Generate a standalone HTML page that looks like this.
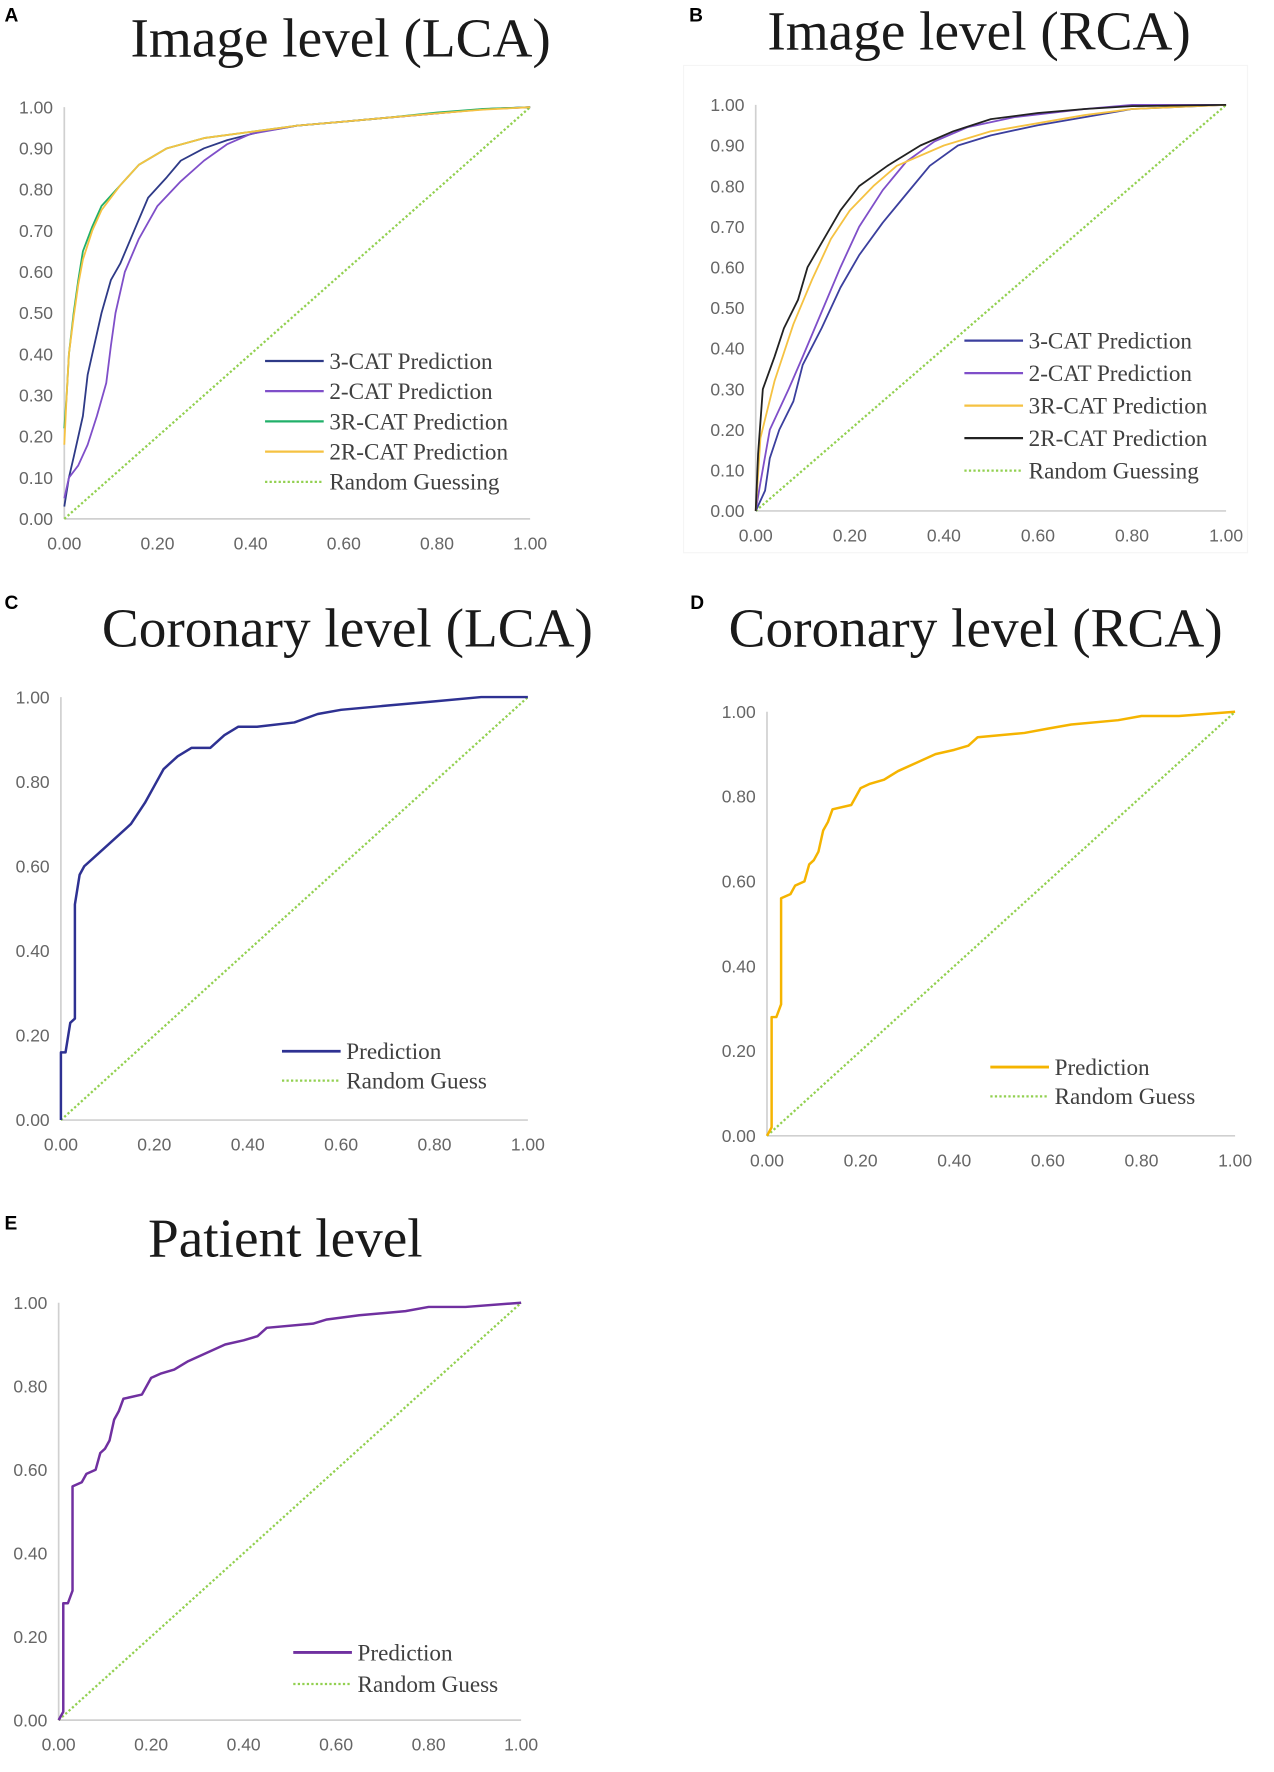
<!DOCTYPE html>
<html><head><meta charset="utf-8">
<style>
html,body{margin:0;padding:0;background:#fff;}
svg{display:block;}
.tick{font-family:"Liberation Sans",sans-serif;font-size:15.5px;fill:#666;}
.title{font-family:"Liberation Serif",serif;font-size:49px;fill:#1a1a1a;}
.leg{font-family:"Liberation Serif",serif;font-size:20.5px;fill:#404040;}
.plabel{font-family:"Liberation Sans",sans-serif;font-size:17px;font-weight:bold;fill:#000;}
</style></head>
<body>
<svg id="fig" width="1274" height="1772" viewBox="0 0 1129.5 1571" xmlns="http://www.w3.org/2000/svg">
<rect x="0" y="0" width="1129.5" height="1571" fill="#fff"/>
</svg>
<script>
// Panel A data (Image level LCA)
const aFpr3 = [0,0.01,0.02,0.04,0.05,0.06,0.08,0.10,0.12,0.15,0.18,0.22,0.25,0.30,0.35,0.42,0.5,0.6,0.7,0.8,0.9,1];
const aTpr3 = [0.03,0.10,0.15,0.25,0.35,0.40,0.50,0.58,0.62,0.70,0.78,0.83,0.87,0.90,0.92,0.94,0.955,0.965,0.975,0.985,0.995,1];
const aFpr2 = [0,0.01,0.03,0.05,0.07,0.09,0.10,0.11,0.13,0.16,0.20,0.25,0.30,0.35,0.40,0.5,0.6,0.7,0.8,0.9,1];
const aTpr2 = [0.05,0.10,0.13,0.18,0.25,0.33,0.42,0.50,0.60,0.68,0.76,0.82,0.87,0.91,0.935,0.955,0.965,0.975,0.985,0.995,1];
const aFpr3R = [0,0.005,0.01,0.02,0.03,0.04,0.06,0.08,0.12,0.16,0.22,0.30,0.40,0.5,0.6,0.7,0.8,0.9,1];
const aTpr3R = [0.22,0.30,0.40,0.50,0.58,0.65,0.71,0.76,0.81,0.86,0.90,0.925,0.94,0.955,0.965,0.975,0.987,0.996,1];
const aFpr2R = [0,0.005,0.01,0.02,0.03,0.04,0.06,0.08,0.12,0.16,0.22,0.30,0.40,0.5,0.6,0.7,0.8,0.9,1];
const aTpr2R = [0.18,0.30,0.40,0.49,0.57,0.63,0.70,0.75,0.81,0.86,0.90,0.925,0.94,0.955,0.965,0.975,0.985,0.994,1];
// Panel B data (Image level RCA)
const bFpr3 = [0,0.02,0.03,0.05,0.08,0.10,0.14,0.18,0.22,0.27,0.32,0.37,0.43,0.5,0.6,0.7,0.8,1];
const bTpr3 = [0,0.05,0.13,0.20,0.27,0.36,0.45,0.55,0.63,0.71,0.78,0.85,0.90,0.925,0.95,0.97,0.99,1];
const bFpr2 = [0,0.01,0.03,0.07,0.10,0.14,0.18,0.22,0.27,0.32,0.38,0.45,0.55,0.7,0.8,1];
const bTpr2 = [0,0.07,0.20,0.30,0.38,0.49,0.60,0.70,0.79,0.86,0.91,0.945,0.97,0.99,1,1];
const bFpr3R = [0,0.01,0.04,0.08,0.12,0.16,0.20,0.25,0.30,0.40,0.5,0.6,0.7,0.8,1];
const bTpr3R = [0,0.18,0.32,0.46,0.57,0.67,0.74,0.80,0.85,0.90,0.935,0.955,0.975,0.99,1];
const bFpr2R = [0,0.005,0.015,0.04,0.06,0.09,0.11,0.14,0.18,0.22,0.28,0.35,0.42,0.5,0.6,0.7,0.8,1];
const bTpr2R = [0,0.14,0.30,0.38,0.45,0.52,0.60,0.66,0.74,0.80,0.85,0.90,0.935,0.965,0.98,0.99,0.997,1];
// Panel C data (Coronary level LCA)
const cFpr = [0,0,0.01,0.02,0.03,0.03,0.04,0.05,0.07,0.10,0.12,0.15,0.18,0.20,0.22,0.25,0.28,0.32,0.35,0.38,0.42,0.50,0.55,0.60,0.70,0.80,0.90,1.0];
const cTpr = [0,0.16,0.16,0.23,0.24,0.51,0.58,0.60,0.62,0.65,0.67,0.70,0.75,0.79,0.83,0.86,0.88,0.88,0.91,0.93,0.93,0.94,0.96,0.97,0.98,0.99,1.0,1.0];
// Panel D data (Coronary level RCA)
const dFpr = [0,0.01,0.01,0.02,0.03,0.03,0.05,0.06,0.08,0.09,0.10,0.11,0.12,0.13,0.14,0.18,0.20,0.22,0.25,0.28,0.32,0.36,0.40,0.43,0.45,0.55,0.60,0.65,0.75,0.80,0.88,1];
const dTpr = [0,0.02,0.28,0.28,0.31,0.56,0.57,0.59,0.60,0.64,0.65,0.67,0.72,0.74,0.77,0.78,0.82,0.83,0.84,0.86,0.88,0.90,0.91,0.92,0.94,0.95,0.96,0.97,0.98,0.99,0.99,1];
// Panel E data (Patient level)
const eFpr = [0,0.01,0.01,0.02,0.03,0.03,0.05,0.06,0.08,0.09,0.10,0.11,0.12,0.13,0.14,0.18,0.20,0.22,0.25,0.28,0.32,0.36,0.40,0.43,0.45,0.55,0.58,0.65,0.75,0.80,0.88,1];
const eTpr = [0,0.02,0.28,0.28,0.31,0.56,0.57,0.59,0.60,0.64,0.65,0.67,0.72,0.74,0.77,0.78,0.82,0.83,0.84,0.86,0.88,0.90,0.91,0.92,0.94,0.95,0.96,0.97,0.98,0.99,0.99,1];
// Tick labels
const ticksTenth = ["0.00","0.10","0.20","0.30","0.40","0.50","0.60","0.70","0.80","0.90","1.00"];
const ticksFifth = ["0.00","0.20","0.40","0.60","0.80","1.00"];

const NS = "http://www.w3.org/2000/svg";
const fig = document.getElementById('fig');
function mk(tag, attrs, parent){
  const e = document.createElementNS(NS, tag);
  for (const k in attrs) e.setAttribute(k, attrs[k]);
  (parent||fig).appendChild(e);
  return e;
}

function panel(p){
  const g = mk('g', {});
  
  
  const sx = v => p.x0 + v * (p.x1 - p.x0);
  const sy = v => p.y0 - v * (p.y0 - p.y1);
  const lab = mk('text', {x: p.lx, y: p.ly, class: 'plabel'}, g);
  lab.textContent = p.id.toUpperCase();
  
  
  const t = mk('text', {x: p.tx, y: p.ty, class: 'title', 'text-anchor': 'middle'}, g);
  t.textContent = p.title;
  
  
  const ya = mk('line', {x1: p.x0, y1: p.y1, x2: p.x0, y2: p.y0, stroke: '#d0d0d0', 'stroke-width': 1.5}, g);
  
  
  const xa = mk('line', {x1: p.x0, y1: p.y0, x2: p.x1, y2: p.y0, stroke: '#d0d0d0', 'stroke-width': 1.5}, g);
  
  
  p.yt.forEach((s, i) => {
    const v = i / (p.yt.length - 1);
    const e = mk('text', {x: p.x0 - 10, y: sy(v) + 5.5, class: 'tick', 'text-anchor': 'end'}, g);
    e.textContent = s;
    
    
  });
  ticksFifth.forEach((s, i) => {
    const v = i / (ticksFifth.length - 1);
    const e = mk('text', {x: sx(v), y: p.y0 + 27, class: 'tick', 'text-anchor': 'middle'}, g);
    e.textContent = s;
    
    
  });
  const diag = mk('line', {x1: sx(0), y1: sy(0), x2: sx(1), y2: sy(1), stroke: '#92d050', 'stroke-width': 2, 'stroke-dasharray': '2,2'}, g);
  
  
  p.series.forEach(s => {
    const pts = s.fx.map((f, i) => sx(f).toFixed(1) + ',' + sy(s.ty[i]).toFixed(1)).join(' ');
    const pl = mk('polyline', {points: pts, fill: 'none', stroke: s.color, 'stroke-width': s.w || 1.6, 'stroke-linejoin': 'round'}, g);
    
    
  });
  p.legend.forEach((L, i) => {
    const y = p.legY + i * p.legDy;
    const ln = mk('line', {x1: p.legX, y1: y, x2: p.legX + 52, y2: y, stroke: L.color, 'stroke-width': L.dash ? 2 : (L.w || 2), 'stroke-dasharray': L.dash ? '2,2' : 'none'}, g);
    
    
    const tx = mk('text', {x: p.legX + 57, y: y + 7, class: 'leg'}, g);
    tx.textContent = L.label;
    
    
  });
}

// light frame for panel B
const fb = mk('rect', {x: 606, y: 58, width: 500, height: 432, fill: 'none', stroke: '#f5f5f5', 'stroke-width': 1});



panel({id:'a', title:'Image level (LCA)', lx:4, ly:19, tx:302, ty:50, x0:57, x1:470, y0:460, y1:95, yt:ticksTenth,
  series:[
    {name:'line-3cat', fx:aFpr3, ty:aTpr3, color:'#2e3a87'},
    {name:'line-2cat', fx:aFpr2, ty:aTpr2, color:'#7f4fc9'},
    {name:'line-3rcat', fx:aFpr3R, ty:aTpr3R, color:'#21b06a'},
    {name:'line-2rcat', fx:aFpr2R, ty:aTpr2R, color:'#f5c242'}],
  legX:235, legY:320, legDy:26.8,
  legend:[{label:'3-CAT Prediction', color:'#2e3a87'},{label:'2-CAT Prediction', color:'#7f4fc9'},{label:'3R-CAT Prediction', color:'#21b06a'},{label:'2R-CAT Prediction', color:'#f5c242'},{label:'Random Guessing', color:'#92d050', dash:true}]});

panel({id:'b', title:'Image level (RCA)', lx:611, ly:19, tx:868, ty:44, x0:670, x1:1087, y0:453, y1:93, yt:ticksTenth,
  series:[
    {name:'line-3cat', fx:bFpr3, ty:bTpr3, color:'#3b3f9e'},
    {name:'line-2cat', fx:bFpr2, ty:bTpr2, color:'#7f4fc9'},
    {name:'line-3rcat', fx:bFpr3R, ty:bTpr3R, color:'#f5c242'},
    {name:'line-2rcat', fx:bFpr2R, ty:bTpr2R, color:'#222'}],
  legX:855, legY:302, legDy:28.8,
  legend:[{label:'3-CAT Prediction', color:'#3b3f9e'},{label:'2-CAT Prediction', color:'#7f4fc9'},{label:'3R-CAT Prediction', color:'#f5c242'},{label:'2R-CAT Prediction', color:'#222'},{label:'Random Guessing', color:'#92d050', dash:true}]});

panel({id:'c', title:'Coronary level (LCA)', lx:4, ly:540, tx:308, ty:573, x0:54, x1:468, y0:993, y1:618, yt:ticksFifth,
  series:[{name:'line-prediction', fx:cFpr, ty:cTpr, color:'#2e3192', w:2.2}],
  legX:250, legY:932, legDy:26,
  legend:[{label:'Prediction', color:'#2e3192', w:2.5},{label:'Random Guess', color:'#92d050', dash:true}]});

panel({id:'d', title:'Coronary level (RCA)', lx:612, ly:540, tx:865, ty:573, x0:680, x1:1095, y0:1007, y1:631, yt:ticksFifth,
  series:[{name:'line-prediction', fx:dFpr, ty:dTpr, color:'#f5b400', w:2.2}],
  legX:878, legY:946, legDy:26,
  legend:[{label:'Prediction', color:'#f5b400', w:2.5},{label:'Random Guess', color:'#92d050', dash:true}]});

panel({id:'e', title:'Patient level', lx:4, ly:1090, tx:253, ty:1114, x0:52, x1:462, y0:1525, y1:1155, yt:ticksFifth,
  series:[{name:'line-prediction', fx:eFpr, ty:eTpr, color:'#7030a0', w:2.2}],
  legX:260, legY:1465, legDy:28,
  legend:[{label:'Prediction', color:'#7030a0', w:2.5},{label:'Random Guess', color:'#92d050', dash:true}]});
</script>
</body></html>
